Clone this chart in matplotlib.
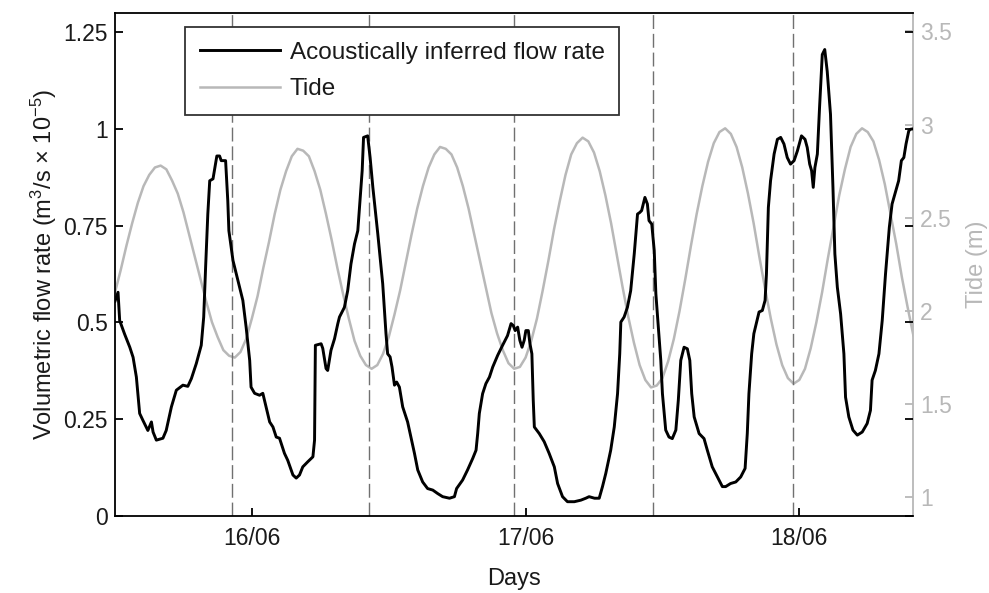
import numpy as np
import matplotlib
matplotlib.use("Agg")
import matplotlib.pyplot as plt
from matplotlib.lines import Line2D

plt.rcParams['font.family'] = ['Liberation Sans', 'DejaVu Sans']
plt.rcParams['mathtext.fontset'] = 'custom'
plt.rcParams['mathtext.rm'] = 'Liberation Sans'
plt.rcParams['mathtext.it'] = 'Liberation Sans:italic'
plt.rcParams['mathtext.bf'] = 'Liberation Sans:bold'

# Acoustically inferred flow rate (day of June, m^3/s x 1e-5)
flow_day = [
    15.500, 15.511, 15.517, 15.535, 15.554, 15.566, 15.578, 15.590, 15.602, 15.620,
    15.633, 15.639, 15.651, 15.675, 15.687, 15.706, 15.724, 15.748, 15.766, 15.779,
    15.797, 15.815, 15.824, 15.831, 15.839, 15.846, 15.858, 15.864, 15.872, 15.882,
    15.888, 15.904, 15.912, 15.916, 15.931, 15.949, 15.967, 15.979, 15.992, 15.997,
    16.010, 16.028, 16.040, 16.052, 16.065, 16.077, 16.089, 16.101, 16.119, 16.131,
    16.150, 16.162, 16.174, 16.186, 16.204, 16.223, 16.229, 16.232, 16.253, 16.259,
    16.271, 16.277, 16.289, 16.302, 16.314, 16.320, 16.338, 16.350, 16.362, 16.375,
    16.387, 16.395, 16.403, 16.408, 16.423, 16.432, 16.442, 16.460, 16.478, 16.490,
    16.496, 16.505, 16.512, 16.521, 16.529, 16.539, 16.551, 16.569, 16.581, 16.594,
    16.606, 16.624, 16.642, 16.661, 16.679, 16.697, 16.722, 16.740, 16.748, 16.770,
    16.788, 16.807, 16.819, 16.825, 16.831, 16.843, 16.855, 16.868, 16.880, 16.898,
    16.916, 16.934, 16.947, 16.955, 16.962, 16.971, 16.979, 16.987, 16.995, 17.001,
    17.010, 17.016, 17.023, 17.028, 17.032, 17.050, 17.068, 17.086, 17.105, 17.117,
    17.135, 17.153, 17.178, 17.202, 17.220, 17.232, 17.252, 17.269, 17.281, 17.293,
    17.311, 17.324, 17.336, 17.344, 17.348, 17.360, 17.372, 17.384, 17.397, 17.409,
    17.417, 17.424, 17.430, 17.436, 17.445, 17.451, 17.461, 17.470, 17.476, 17.485,
    17.494, 17.500, 17.512, 17.524, 17.536, 17.549, 17.558, 17.567, 17.579, 17.591,
    17.600, 17.607, 17.616, 17.634, 17.652, 17.664, 17.682, 17.701, 17.719, 17.731,
    17.749, 17.768, 17.786, 17.802, 17.810, 17.816, 17.826, 17.834, 17.843, 17.853,
    17.865, 17.875, 17.880, 17.887, 17.895, 17.908, 17.920, 17.932, 17.944, 17.956,
    17.968, 17.981, 17.993, 18.008, 18.021, 18.029, 18.038, 18.045, 18.051, 18.057,
    18.066, 18.074, 18.084, 18.093, 18.102, 18.114, 18.123, 18.130, 18.139, 18.151,
    18.163, 18.169, 18.181, 18.196, 18.212, 18.230, 18.248, 18.260, 18.266, 18.278,
    18.291, 18.303, 18.315, 18.329, 18.339, 18.351, 18.363, 18.373, 18.382, 18.390,
    18.400, 18.406, 18.415,
]
flow_rate = [
    0.555, 0.578, 0.505, 0.470, 0.436, 0.410, 0.359, 0.265, 0.247, 0.221,
    0.243, 0.217, 0.196, 0.201, 0.221, 0.282, 0.325, 0.338, 0.335, 0.355,
    0.394, 0.441, 0.514, 0.643, 0.780, 0.866, 0.871, 0.897, 0.930, 0.930,
    0.918, 0.918, 0.814, 0.737, 0.660, 0.608, 0.557, 0.488, 0.402, 0.333,
    0.317, 0.312, 0.317, 0.282, 0.243, 0.230, 0.204, 0.201, 0.162, 0.144,
    0.106, 0.098, 0.106, 0.127, 0.140, 0.153, 0.196, 0.441, 0.445, 0.433,
    0.381, 0.376, 0.428, 0.458, 0.497, 0.514, 0.539, 0.582, 0.651, 0.703,
    0.737, 0.814, 0.892, 0.978, 0.982, 0.926, 0.849, 0.729, 0.600, 0.471,
    0.419, 0.411, 0.385, 0.338, 0.346, 0.333, 0.282, 0.243, 0.204, 0.162,
    0.119, 0.088, 0.071, 0.067, 0.058, 0.050, 0.046, 0.050, 0.071, 0.093,
    0.119, 0.149, 0.170, 0.213, 0.265, 0.316, 0.342, 0.359, 0.385, 0.415,
    0.441, 0.466, 0.497, 0.492, 0.479, 0.488, 0.454, 0.436, 0.454, 0.479,
    0.479, 0.445, 0.419, 0.299, 0.230, 0.213, 0.192, 0.162, 0.127, 0.084,
    0.050, 0.037, 0.037, 0.041, 0.046, 0.050, 0.046, 0.046, 0.076, 0.110,
    0.170, 0.230, 0.316, 0.419, 0.501, 0.514, 0.539, 0.582, 0.677, 0.780,
    0.784, 0.789, 0.806, 0.823, 0.806, 0.763, 0.754, 0.686, 0.574, 0.488,
    0.402, 0.316, 0.222, 0.204, 0.200, 0.222, 0.299, 0.402, 0.436, 0.432,
    0.402, 0.316, 0.256, 0.213, 0.200, 0.170, 0.127, 0.101, 0.076, 0.076,
    0.084, 0.088, 0.101, 0.123, 0.213, 0.316, 0.419, 0.471, 0.497, 0.527,
    0.531, 0.557, 0.625, 0.797, 0.866, 0.935, 0.973, 0.978, 0.961, 0.926,
    0.909, 0.918, 0.943, 0.982, 0.973, 0.952, 0.909, 0.892, 0.849, 0.900,
    0.935, 1.055, 1.192, 1.205, 1.149, 1.038, 0.849, 0.677, 0.591, 0.522,
    0.419, 0.307, 0.256, 0.222, 0.209, 0.217, 0.239, 0.273, 0.351, 0.376,
    0.419, 0.505, 0.625, 0.746, 0.806, 0.836, 0.866, 0.918, 0.926, 0.961,
    0.995, 0.999, 1.000,
]

# Half-hourly tide level (m), starting 15/06 12:00
tide_start_day = 15.5
tide_step_day = 1.0 / 48.0
tide_level = [
    2.10, 2.22, 2.35, 2.47, 2.58, 2.67, 2.73, 2.77, 2.78, 2.76,
    2.70, 2.63, 2.53, 2.41, 2.29, 2.17, 2.05, 1.94, 1.86, 1.79,
    1.76, 1.75, 1.78, 1.85, 1.96, 2.08, 2.23, 2.37, 2.52, 2.65,
    2.75, 2.83, 2.87, 2.86, 2.83, 2.75, 2.65, 2.52, 2.38, 2.23,
    2.09, 1.96, 1.84, 1.76, 1.71, 1.69, 1.71, 1.77, 1.86, 1.98,
    2.11, 2.26, 2.41, 2.55, 2.67, 2.77, 2.84, 2.88, 2.87, 2.84,
    2.77, 2.67, 2.55, 2.41, 2.27, 2.13, 1.99, 1.88, 1.79, 1.72,
    1.69, 1.70, 1.75, 1.84, 1.96, 2.11, 2.27, 2.44, 2.59, 2.73,
    2.84, 2.90, 2.93, 2.91, 2.85, 2.75, 2.62, 2.47, 2.30, 2.13,
    1.97, 1.83, 1.71, 1.63, 1.59, 1.60, 1.64, 1.73, 1.85, 2.00,
    2.17, 2.35, 2.52, 2.67, 2.80, 2.90, 2.96, 2.98, 2.95, 2.88,
    2.77, 2.63, 2.47, 2.29, 2.12, 1.96, 1.82, 1.71, 1.64, 1.61,
    1.63, 1.69, 1.80, 1.94, 2.10, 2.28, 2.45, 2.62, 2.76, 2.88,
    2.95, 2.98, 2.96, 2.91, 2.81, 2.68, 2.52, 2.36, 2.18, 2.02,
    1.87,
]
tide_day = tide_start_day + np.arange(len(tide_level)) * tide_step_day

# Times of low water
low_tide_day = [15.927, 16.427, 16.956, 17.467, 17.978]

day_ticks = [16, 17, 18]
day_labels = ['16/06', '17/06', '18/06']
flow_ticks = [0, 0.25, 0.5, 0.75, 1, 1.25]
flow_tick_labels = ['0', '0.25', '0.5', '0.75', '1', '1.25']
tide_ticks = [1, 1.5, 2, 2.5, 3, 3.5]
tide_tick_labels = ['1', '1.5', '2', '2.5', '3', '3.5']

GREY = '#b8b8b8'
TEXT = '#1a1a1a'
FS_TICK = 16.5
FS_LABEL = 17
FS_LEG = 17.5

fig = plt.figure(figsize=(9.89, 5.93), dpi=100)
ax = fig.add_axes([0.1163, 0.1298, 0.8072, 0.8487])
ax2 = ax.twinx()
ax.set_zorder(ax2.get_zorder() + 1)
ax.patch.set_visible(False)

ax2.plot(tide_day, tide_level, color=GREY, lw=1.8)
for d in low_tide_day:
    ax.axvline(d, color='#707070', lw=1.0, dashes=(10, 3.5))
ax.plot(flow_day, flow_rate, color='black', lw=2.1)

ax.set_xlim(15.5, 18.4167)
ax.set_ylim(0, 1.3)
ax2.set_ylim(0.9, 3.6)

ax.set_xticks(day_ticks)
ax.set_xticklabels(day_labels)
ax.set_yticks(flow_ticks)
ax.set_yticklabels(flow_tick_labels)
ax2.set_yticks(tide_ticks)
ax2.set_yticklabels(tide_tick_labels)

ax.tick_params(axis='both', direction='in', length=5.5, width=1.3,
               labelsize=FS_TICK, labelcolor=TEXT, color='black', pad=5)
ax.tick_params(axis='y', right=True, labelright=False)
ax.tick_params(axis='x', top=False, pad=8)
ax2.tick_params(axis='y', direction='in', length=5.5, width=1.3,
                color=GREY, labelcolor=GREY, labelsize=FS_TICK, pad=5)

for side in ('left', 'top', 'bottom'):
    ax.spines[side].set_color('black')
    ax.spines[side].set_linewidth(1.3)
    ax2.spines[side].set_visible(False)
ax.spines['right'].set_visible(False)
ax2.spines['right'].set_color(GREY)
ax2.spines['right'].set_linewidth(1.3)

ax.set_xlabel('Days', fontsize=FS_LABEL, color=TEXT, labelpad=13)
ax.set_ylabel('Volumetric flow rate (m$^3$/s × 10$^{-5}$)', fontsize=FS_LABEL,
              color=TEXT, labelpad=3)
ax2.set_ylabel('Tide (m)', fontsize=FS_LABEL, color=GREY, labelpad=10)

handles = [Line2D([], [], color='black', lw=2.1),
           Line2D([], [], color=GREY, lw=1.8)]
leg = ax.legend(handles, ['Acoustically inferred flow rate', 'Tide'],
                loc='upper left', bbox_to_anchor=(185 / 989, 1 - 27 / 593),
                bbox_transform=fig.transFigure, borderaxespad=0,
                fontsize=FS_LEG, handlelength=3.3, handletextpad=0.4,
                borderpad=0.6, labelspacing=0.6, fancybox=False,
                framealpha=1, edgecolor='#333333')
leg.get_frame().set_linewidth(1.3)
for t in leg.get_texts():
    t.set_color(TEXT)

fig.savefig('out.png', dpi=100)
